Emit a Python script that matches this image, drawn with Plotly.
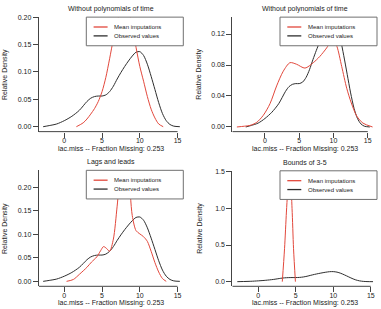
import plotly.graph_objects as go

W, H = 381, 309

# ---------------- data ----------------
obs_x = [-2.8, -2.0, -1.0, 0.0, 1.0, 2.0, 3.0, 3.5, 4.0, 4.5, 5.0, 5.5, 6.0, 6.5, 7.0,
         7.5, 8.0, 8.5, 9.0, 9.5, 10.0, 10.5, 11.0, 11.5, 12.0, 12.5, 13.0, 13.5, 14.0, 14.5, 15.3]
obs_y = [0.000, 0.002, 0.005, 0.011, 0.019, 0.030, 0.046, 0.052, 0.055, 0.056, 0.056, 0.058,
         0.064, 0.074, 0.087, 0.099, 0.110, 0.120, 0.129, 0.136, 0.137, 0.130, 0.114, 0.092,
         0.068, 0.044, 0.024, 0.011, 0.004, 0.001, 0.000]

# panel 1: without polynomials of time
imp1_x = [1.6, 2.5, 3.0, 3.5, 4.0, 4.5, 5.0, 5.5, 6.0, 6.5, 7.0, 7.5, 8.0, 8.5, 9.0, 9.5,
          10.0, 10.5, 11.0, 11.5, 12.0, 12.5, 13.1]
imp1_y = [0.000, 0.007, 0.014, 0.023, 0.033, 0.046, 0.064, 0.090, 0.124, 0.160, 0.192, 0.212,
          0.218, 0.210, 0.185, 0.145, 0.110, 0.083, 0.055, 0.032, 0.016, 0.005, 0.000]

# panel 2: without polynomials of time (second)
imp2_x = [-4.1, -3.0, -2.2, -1.2, -0.25, 0.73, 1.7, 2.67, 3.65, 4.6, 5.84, 7.05, 8.0, 9.0,
          9.6, 10.0, 10.5, 11.2, 11.93, 12.6, 13.4, 14.3, 15.7]
imp2_y = [0.000, 0.001, 0.002, 0.006, 0.015, 0.030, 0.053, 0.072, 0.083, 0.081, 0.076, 0.083,
          0.091, 0.102, 0.110, 0.112, 0.104, 0.078, 0.050, 0.031, 0.014, 0.005, 0.000]

# panel 3: lags and leads
imp3_x = [0.3, 1.2, 2.0, 3.0, 3.6, 4.3, 4.8, 5.2, 5.6, 6.0, 6.5, 7.0, 7.5, 8.0, 8.5, 9.0,
          9.5, 10.0, 10.5, 11.0, 11.5, 12.0, 12.5, 13.0, 13.5]
imp3_y = [0.000, 0.004, 0.015, 0.030, 0.041, 0.052, 0.065, 0.074, 0.070, 0.064, 0.090, 0.160,
          0.240, 0.265, 0.230, 0.140, 0.108, 0.101, 0.095, 0.085, 0.064, 0.040, 0.020, 0.006, 0.000]

# panel 4: bounds of 3-5
imp4_x = [3.2, 3.5, 3.75, 3.9, 4.1, 4.3, 4.5, 4.7, 4.95]
imp4_y = [0.00, 0.45, 0.95, 1.20, 1.40, 1.35, 1.00, 0.45, 0.00]

titles = ["Without polynomials of time", "Without polynomials of time",
          "Lags and leads", "Bounds of 3-5"]
x_label = "lac.miss -- Fraction Missing: 0.253"
y_label = "Relative Density"
legend_labels = ["Mean imputations", "Observed values"]
x_ticks = [0, 5, 10, 15]
y_ticks = [[0.00, 0.05, 0.10, 0.15, 0.20],
           [0.00, 0.04, 0.08, 0.12],
           [0.00, 0.05, 0.10, 0.15, 0.20],
           [0.0, 0.5, 1.0, 1.5]]
y_tickfmt = [".2f", ".2f", ".2f", ".1f"]

imp_x = [imp1_x, imp2_x, imp3_x, imp4_x]
imp_y = [imp1_y, imp2_y, imp3_y, imp4_y]

# ---------------- layout (pixel geometry) ----------------
panels = [
    dict(l=38.7, r=183.3, t=13.3, b=129.3, xr=[-3.39, 15.76], yr=[-0.009, 0.2]),
    dict(l=232.3, r=377.0, t=13.3, b=129.3, xr=[-4.77, 16.35], yr=[-0.006, 0.1418]),
    dict(l=38.7, r=183.3, t=168.5, b=286.0, xr=[-3.39, 15.76], yr=[-0.0105, 0.2363]),
    dict(l=232.3, r=377.0, t=169.0, b=286.0, xr=[-3.467, 15.83], yr=[-0.0633, 1.513]),
]

RED = "#e2483c"
BLK = "#2e2e2e"
AX = "#444444"
FONT = "Liberation Sans, Arial, sans-serif"

def px(x):
    return x / W

def py(y):
    return 1 - y / H

fig = go.Figure()
shapes = []
annotations = []

for i, p in enumerate(panels):
    n = "" if i == 0 else str(i + 1)
    xa, ya = "x" + n, "y" + n
    fig.add_trace(go.Scatter(x=obs_x, y=obs_y, mode="lines", xaxis=xa, yaxis=ya,
                             line=dict(color=BLK, width=1, shape="spline", smoothing=0.8),
                             showlegend=False, hoverinfo="skip"))
    fig.add_trace(go.Scatter(x=imp_x[i], y=imp_y[i], mode="lines", xaxis=xa, yaxis=ya,
                             line=dict(color=RED, width=1, shape="spline", smoothing=0.8),
                             showlegend=False, hoverinfo="skip"))

    fig.layout["xaxis" + n] = dict(
        domain=[px(p["l"]), px(p["r"])], range=p["xr"], anchor=ya,
        showgrid=False, zeroline=False, showline=False,
        tickmode="array", tickvals=x_ticks, ticktext=[str(v) for v in x_ticks],
        ticks="outside", ticklen=5, tickcolor=AX, tickwidth=1, ticklabelstandoff=-3,
        tickfont=dict(family=FONT, size=7, color="#222"), fixedrange=True)
    fig.layout["yaxis" + n] = dict(
        domain=[py(p["b"]), py(p["t"])], range=p["yr"], anchor=xa,
        showgrid=False, zeroline=False, showline=True, linecolor=AX, linewidth=1,
        tickmode="array", tickvals=y_ticks[i],
        ticktext=[format(v, y_tickfmt[i]) for v in y_ticks[i]],
        ticks="outside", ticklen=5, tickcolor=AX, tickwidth=1,
        tickfont=dict(family=FONT, size=7, color="#222"), fixedrange=True)

    # x axis line (from the left edge to the last tick)
    shapes.append(dict(type="line", xref=xa, yref=ya + " domain",
                       x0=p["xr"][0], x1=max(x_ticks), y0=0, y1=0,
                       line=dict(color=AX, width=1), layer="above"))

    # legend box
    bl, bt = p["r"] - 97.0, p["t"]
    shapes.append(dict(type="rect", xref="paper", yref="paper",
                       x0=px(bl), x1=px(p["r"]), y0=py(bt + 29.0), y1=py(bt),
                       fillcolor="white", line=dict(color="#707070", width=1), layer="above"))
    for k, (lab, col) in enumerate(zip(legend_labels, [RED, BLK])):
        yy = bt + 10.0 + 9.0 * k
        shapes.append(dict(type="line", xref="paper", yref="paper",
                           x0=px(bl + 7.3), x1=px(bl + 21.3), y0=py(yy), y1=py(yy),
                           line=dict(color=col, width=1.3), layer="above"))
        annotations.append(dict(text=lab, xref="paper", yref="paper",
                                x=px(bl + 26.0), y=py(yy), xanchor="left", yanchor="middle",
                                showarrow=False, font=dict(family=FONT, size=6, color="#222")))

    # title
    annotations.append(dict(text=titles[i], xref=xa + " domain", yref="paper",
                            x=0.5, y=py(p["t"] - 8.6), xanchor="center", yanchor="middle",
                            showarrow=False, font=dict(family=FONT, size=7, color="#222")))
    # x label
    annotations.append(dict(text=x_label, xref=xa + " domain", yref="paper",
                            x=0.5, y=py(p["b"] + 17.4), xanchor="center", yanchor="middle",
                            showarrow=False, font=dict(family=FONT, size=7, color="#222")))
    # y label
    annotations.append(dict(text=y_label, xref="paper", yref=ya + " domain",
                            x=px(p["l"] - 33.0), y=0.5, xanchor="center", yanchor="middle",
                            textangle=-90, showarrow=False,
                            font=dict(family=FONT, size=7, color="#222")))

fig.update_layout(width=W, height=H, margin=dict(l=0, r=0, t=0, b=0),
                  paper_bgcolor="white", plot_bgcolor="white",
                  shapes=shapes, annotations=annotations, showlegend=False)

fig.write_html("out.html", config={"displayModeBar": False})
